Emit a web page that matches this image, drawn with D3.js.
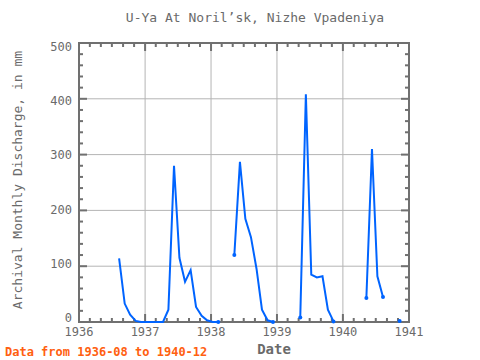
<!DOCTYPE html>
<html><head><meta charset="utf-8">
<script src="https://cdn.jsdelivr.net/npm/d3@7"></script>
<style>body{margin:0;background:#fff}svg{display:block}text{font-family:"DejaVu Sans Mono",monospace}</style>
</head><body>
<script>
// Monthly data 1936-08 .. 1940-12 (null = missing)
const months = ["1936-08","1936-09","1936-10","1936-11","1936-12",
"1937-01","1937-02","1937-03","1937-04","1937-05","1937-06","1937-07","1937-08","1937-09","1937-10","1937-11","1937-12",
"1938-01","1938-02","1938-03","1938-04","1938-05","1938-06","1938-07","1938-08","1938-09","1938-10","1938-11","1938-12",
"1939-01","1939-02","1939-03","1939-04","1939-05","1939-06","1939-07","1939-08","1939-09","1939-10","1939-11","1939-12",
"1940-01","1940-02","1940-03","1940-04","1940-05","1940-06","1940-07","1940-08","1940-09","1940-10","1940-11","1940-12"];
const discharge = [114,33,13,2,0,
0,0,0,0,22,280,115,72,93,27,11,3,
0,0,null,null,120,287,185,152,95,22,3,0,
null,null,null,null,8,408,85,80,82,22,1,null,
null,null,null,null,43,310,82,45,null,null,2,null];
const yTicks = [0,100,200,300,400,500];
const xTickYears = [1936,1937,1938,1939,1940,1941];
const titleText = "U-Ya At Noril\u2019sk, Nizhe Vpadeniya";
const yLabel = "Archival Monthly Discharge, in mm";
const xLabel = "Date";
const footer = "Data from 1936-08 to 1940-12";

const W=480,H=360, L=79, R=409, T=43, B=322;
const svg = d3.select("body").append("svg").attr("width",W).attr("height",H);
const x = d3.scaleTime().domain([new Date(1936,0,1), new Date(1941,0,1)]).range([L,R]);
const y = d3.scaleLinear().domain([0,500]).range([B,T]);
const yLab = d3.scaleLinear().domain([0,500]).range([318,47]);
const parse = s => { const [yy,mm]=s.split("-").map(Number); return new Date(yy,mm-1,10); };
const data = months.map((m,i)=>({d:parse(m), v:discharge[i]}));

const frameCol="#707070", gridCol="#b4b4b4", textCol="#6a6a6a";
// grid
const g = svg.append("g");
g.selectAll(".gy").data(yTicks.slice(1,-1)).join("line")
 .attr("x1",L).attr("x2",R).attr("y1",d=>y(d)).attr("y2",d=>y(d)).attr("stroke",gridCol);
g.selectAll(".gx").data(xTickYears.slice(1,-1)).join("line")
 .attr("y1",T).attr("y2",B).attr("x1",d=>x(new Date(d,0,1))).attr("x2",d=>x(new Date(d,0,1))).attr("stroke",gridCol);

// minor/major ticks
const tk = svg.append("g").attr("stroke",frameCol).attr("stroke-width",2);
const yMinor = d3.range(0,501,20);
yMinor.forEach(v=>{
  const len = v%100===0 ? 8 : 4;
  tk.append("line").attr("x1",L).attr("x2",L+len).attr("y1",y(v)).attr("y2",y(v));
  tk.append("line").attr("x1",R).attr("x2",R-len).attr("y1",y(v)).attr("y2",y(v));
});
const xMinor = d3.timeMonth.every(2).range(new Date(1936,0,1), new Date(1941,0,2));
xMinor.forEach(d=>{
  const len = d.getMonth()===0 ? 8 : 4;
  tk.append("line").attr("y1",T).attr("y2",T+len).attr("x1",x(d)).attr("x2",x(d));
  tk.append("line").attr("y1",B).attr("y2",B-len).attr("x1",x(d)).attr("x2",x(d));
});
// frame
svg.append("rect").attr("x",L).attr("y",T).attr("width",R-L).attr("height",B-T)
 .attr("fill","none").attr("stroke",frameCol).attr("stroke-width",2);

// tick labels
svg.append("g").selectAll("text").data(yTicks).join("text")
 .attr("x",72).attr("y",d=>yLab(d)+4).attr("text-anchor","end")
 .attr("font-size",12).attr("fill",textCol).text(d=>d);
svg.append("g").selectAll("text").data(xTickYears).join("text")
 .attr("x",d=>x(new Date(d,0,1))).attr("y",336).attr("text-anchor","middle")
 .attr("font-size",12).attr("fill",textCol).text(d=>d);

// line
const line = d3.line().defined(d=>d.v!==null).x(d=>x(d.d)).y(d=>y(d.v));
svg.append("path").datum(data).attr("d",line).attr("fill","none")
 .attr("stroke","#0064ff").attr("stroke-width",2);
const ends = data.filter((d,i)=>d.v!==null && i>0 && (data[i-1].v===null || i===data.length-1 || data[i+1].v===null));
svg.append("g").selectAll("circle").data(ends).join("circle")
 .attr("cx",d=>x(d.d)).attr("cy",d=>y(d.v)).attr("r",2).attr("fill","#0064ff");

// titles
svg.append("text").attr("x",255).attr("y",22).attr("text-anchor","middle")
 .attr("font-size",13).attr("fill",textCol).text(titleText);
svg.append("text").attr("transform","translate(22,180) rotate(-90)").attr("text-anchor","middle")
 .attr("font-size",13).attr("fill",textCol).text(yLabel);
svg.append("text").attr("x",274).attr("y",354).attr("text-anchor","middle")
 .attr("font-size",14).attr("font-weight","bold").attr("fill",textCol).text(xLabel);
svg.append("text").attr("x",5).attr("y",356)
 .attr("font-size",12).attr("font-weight","bold").attr("fill","#ff6010").text(footer);
</script>
</body></html>
